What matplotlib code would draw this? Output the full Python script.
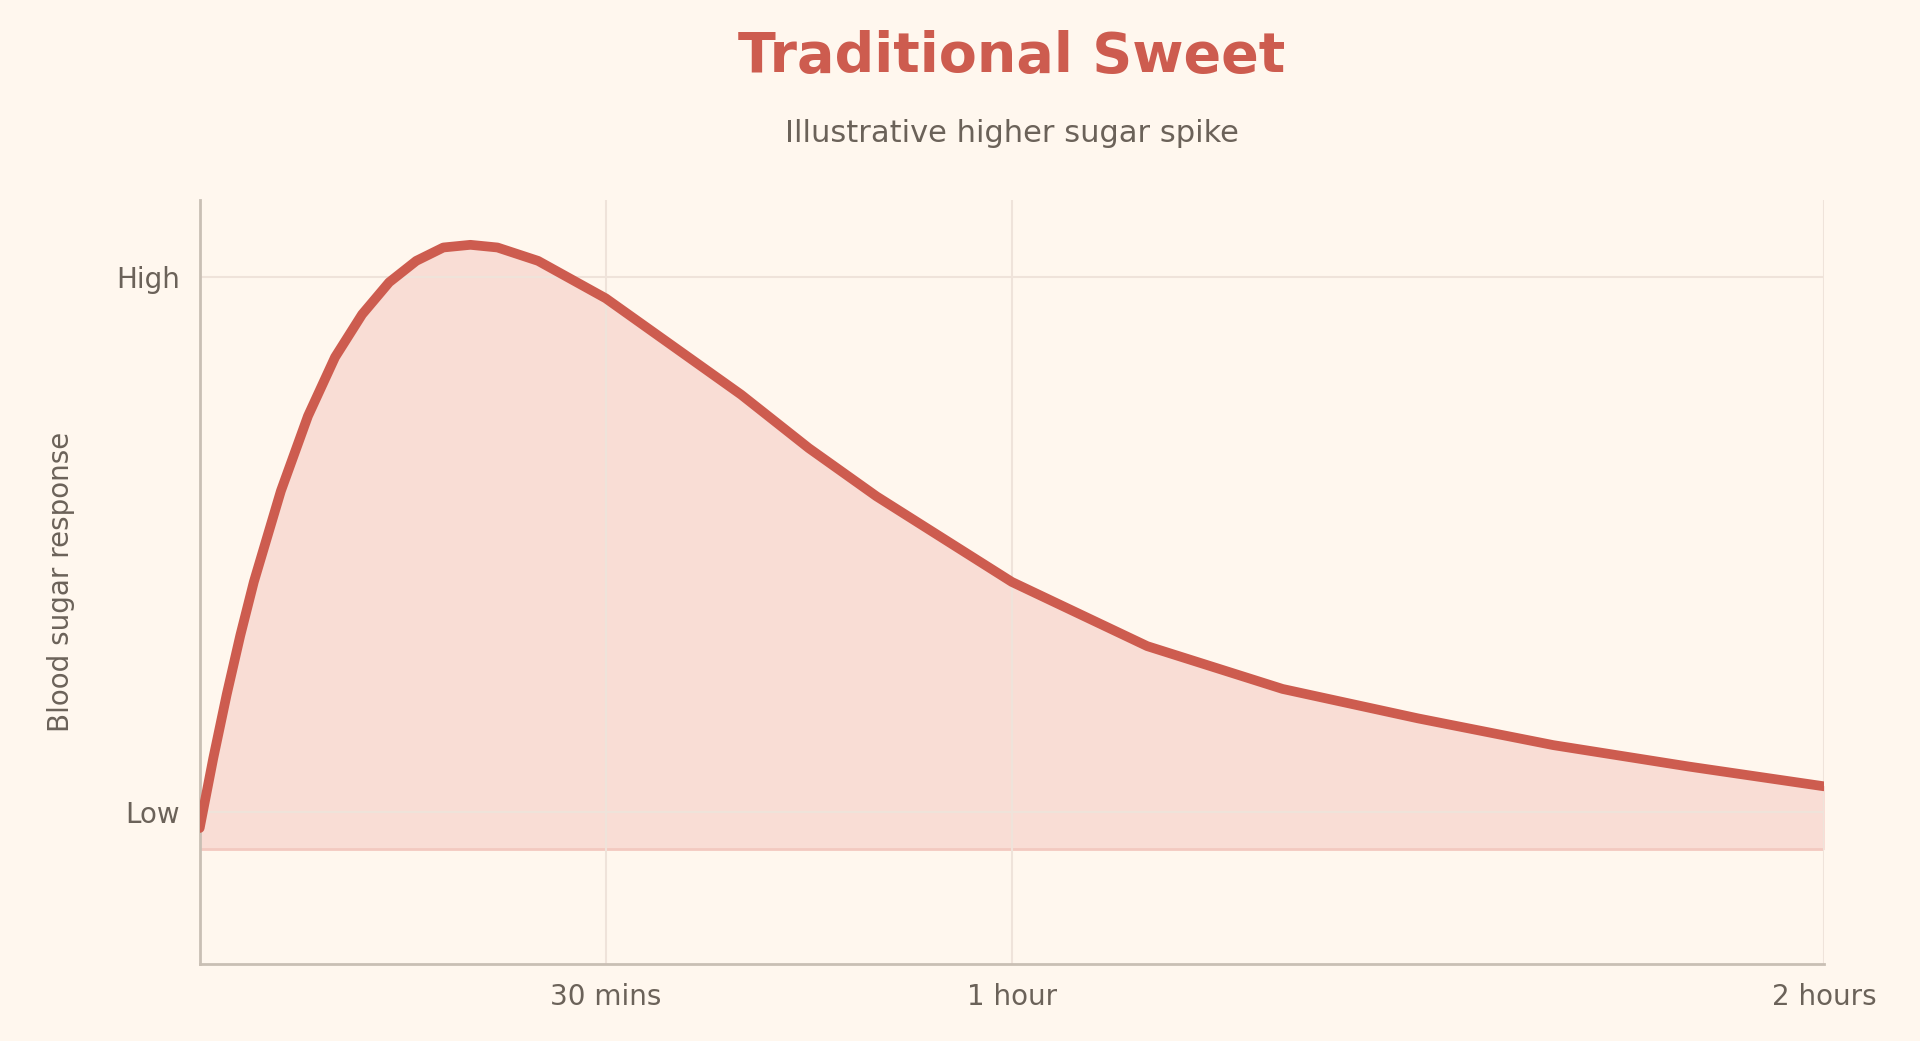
import matplotlib
matplotlib.use("Agg")
import matplotlib.pyplot as plt

minutes = [0, 1, 2, 3, 4, 6, 8, 10, 12, 14, 16, 18, 20, 22, 25, 30, 35, 40, 45, 50, 55, 60, 70, 80, 90, 100, 110, 120]
response = [-0.03, 0.10, 0.22, 0.33, 0.43, 0.60, 0.74, 0.85, 0.93, 0.99, 1.03, 1.055, 1.06, 1.055, 1.03, 0.96, 0.87, 0.78, 0.68, 0.59, 0.51, 0.43, 0.31, 0.23, 0.175, 0.125, 0.085, 0.048]
xtick_vals = [30, 60, 120]
xtick_labels = ["30 mins", "1 hour", "2 hours"]
ytick_vals = [0, 1]
ytick_labels = ["Low", "High"]
baseline = -0.069

bg = "#FFF7EE"
red = "#CD5C4F"
txt = "#6B6259"

fig = plt.figure(figsize=(19.2, 10.41), dpi=100, facecolor=bg)
ax = fig.add_axes([0.104, 0.074, 0.846, 0.734], facecolor=bg)
ax.fill_between(minutes, baseline, response, color="#F9DDD5", zorder=1)
ax.axhline(baseline, color="#F3C9C0", lw=2, zorder=1.5)
ax.plot(minutes, response, color=red, lw=7, solid_capstyle="round", zorder=3)
ax.set_xlim(0, 120)
ax.set_ylim(-0.284, 1.144)
ax.set_xticks(xtick_vals, xtick_labels)
ax.set_yticks(ytick_vals, ytick_labels)
ax.tick_params(length=0, labelsize=20, labelcolor=txt, pad=14)
ax.grid(True, color="#EFE3DA", lw=1.5, zorder=0)
for s in ["top", "right"]:
    ax.spines[s].set_visible(False)
for s in ["left", "bottom"]:
    ax.spines[s].set_color("#C9BFB4")
    ax.spines[s].set_linewidth(2)
ax.set_ylabel("Blood sugar response", fontsize=20, color=txt, labelpad=30)
fig.text(0.527, 0.945, "Traditional Sweet", ha="center", va="center", fontsize=40, fontweight="bold", color=red)
fig.text(0.527, 0.872, "Illustrative higher sugar spike", ha="center", va="center", fontsize=22, color=txt)
fig.savefig("out.png", dpi=100, facecolor=bg)
